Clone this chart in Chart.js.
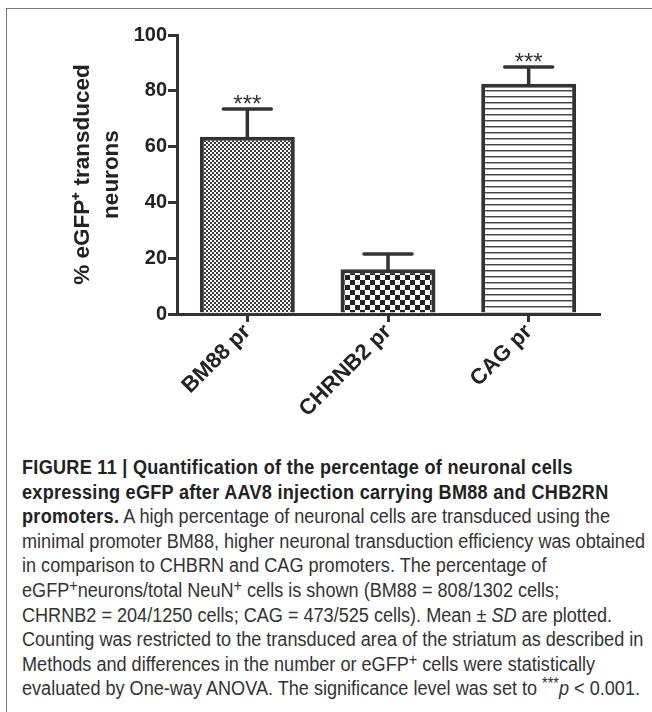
<!DOCTYPE html>
<html>
<head>
  <title>Figure 11</title>
  <script src="https://cdn.jsdelivr.net/npm/chart.js"></script>
  <style>
    body { margin: 0; background: #fff; width: 652px; height: 712px; overflow: hidden; position: relative; }
    .frame {
      position: absolute; left: 6px; top: 8px; width: 700px; height: 720px;
      border-left: 1.5px solid #777; border-top: 1.5px solid #777;
    }
    #wrap { position: absolute; left: 0; top: 0; width: 652px; height: 440px; }
    .caption {
      position: absolute; left: 22px; top: 455px;
      font-family: "Liberation Sans", Arial, sans-serif;
      font-size: 19.5px; line-height: 24.6px; color: #333; white-space: nowrap;
      transform-origin: 0 0;
    }
    .caption b { color: #222; letter-spacing: 0.3px; }
    .caption sup { font-size: 0.8em; vertical-align: 0.4em; line-height: 0; }
  </style>
</head>
<body>
<div class="frame"></div>
<div id="wrap"><canvas id="fig"></canvas></div>

<div class="caption" id="caption">
<b>FIGURE 11 | Quantification of the percentage of neuronal cells</b><br>
<b>expressing eGFP after AAV8 injection carrying BM88 and CHB2RN</b><br>
<b>promoters.</b> A high percentage of neuronal cells are transduced using the<br>
<span id="ref-line">minimal promoter BM88, higher neuronal transduction efficiency was obtained</span><br>
in comparison to CHBRN and CAG promoters. The percentage of<br>
eGFP<sup>+</sup>neurons/total NeuN<sup>+</sup> cells is shown (BM88 = 808/1302 cells;<br>
CHRNB2 = 204/1250 cells; CAG = 473/525 cells). Mean ± <i>SD</i> are plotted.<br>
Counting was restricted to the transduced area of the striatum as described in<br>
Methods and differences in the number or eGFP<sup>+</sup> cells were statistically<br>
evaluated by One-way ANOVA. The significance level was set to <sup>***</sup><i>p</i> &lt; 0.001.
</div>

<script>
  const categories = ['BM88 pr', 'CHRNB2 pr', 'CAG pr'];
  const meanValues = [63.5, 16, 82.5];
  const sdValues = [10, 5.5, 6];
  const significance = ['***', '', '***'];

  const INK = '#333';

  // the caption font is condensed in the original, squeeze it to fit
  const refWidth = document.getElementById('ref-line').getBoundingClientRect().width;
  document.getElementById('caption').style.transform = 'scaleX(' + (623 / refWidth) + ')';

  // small tiles used as bar fills
  function makePattern(kind) {
    const c = document.createElement('canvas');
    const g = c.getContext('2d');
    if (kind === 'fineChecker') {
      c.width = 4; c.height = 4;
      g.fillStyle = '#fff'; g.fillRect(0, 0, 4, 4);
      g.fillStyle = '#3a3a3a';
      g.fillRect(0, 0, 2, 2); g.fillRect(2, 2, 2, 2);
    } else if (kind === 'checker') {
      c.width = 10; c.height = 10;
      g.fillStyle = '#fff'; g.fillRect(0, 0, 10, 10);
      g.fillStyle = '#222';
      g.fillRect(0, 0, 5, 5); g.fillRect(5, 5, 5, 5);
    } else {
      c.width = 6; c.height = 6;
      g.fillStyle = '#fff'; g.fillRect(0, 0, 6, 6);
      g.fillStyle = '#444'; g.fillRect(0, 0, 6, 1);
      g.fillStyle = '#aaa'; g.fillRect(0, 1, 6, 1);
    }
    return g.createPattern(c, 'repeat');
  }

  const fills = [makePattern('fineChecker'), makePattern('checker'), makePattern('lines')];

  const errorBars = {
    id: 'errorBars',
    afterDatasetsDraw(chart) {
      const ctx = chart.ctx;
      const meta = chart.getDatasetMeta(0);
      const y = chart.scales.y;
      ctx.save();
      ctx.strokeStyle = INK;
      ctx.lineWidth = 3.5;
      ctx.lineCap = 'round';
      meta.data.forEach((bar, i) => {
        const yMean = y.getPixelForValue(meanValues[i]);
        const yTop = y.getPixelForValue(meanValues[i] + sdValues[i]);
        ctx.beginPath();
        ctx.moveTo(bar.x, yMean);
        ctx.lineTo(bar.x, yTop);
        ctx.moveTo(bar.x - 24, yTop);
        ctx.lineTo(bar.x + 24, yTop);
        ctx.stroke();
        if (significance[i]) {
          ctx.fillStyle = INK;
          ctx.font = '24px "Liberation Sans", Arial';
          ctx.textAlign = 'center';
          ctx.textBaseline = 'alphabetic';
          ctx.fillText(significance[i], bar.x, yTop + 3);
        }
      });
      ctx.restore();
    }
  };

  new Chart(document.getElementById('fig'), {
    type: 'bar',
    data: {
      labels: categories,
      datasets: [{
        data: meanValues,
        backgroundColor: fills,
        borderColor: INK,
        borderWidth: 4,
        categoryPercentage: 1,
        barPercentage: 0.675
      }]
    },
    options: {
      responsive: true,
      maintainAspectRatio: false,
      animation: false,
      layout: { padding: { top: 35, right: 53, left: 0, bottom: 0 } },
      plugins: { legend: { display: false }, tooltip: { enabled: false } },
      scales: {
        x: {
          grid: { display: true, drawOnChartArea: false, offset: false, tickLength: 8, lineWidth: 3, color: INK },
          border: { display: true, width: 3, color: INK },
          ticks: {
            minRotation: 45, maxRotation: 45, padding: -3,
            color: '#222', font: { family: 'Liberation Sans, Arial', size: 22, weight: 'bold' }
          },
          afterFit(scale) { scale.height = 126; }
        },
        y: {
          min: 0, max: 100,
          grid: { display: true, drawOnChartArea: false, tickLength: 9, lineWidth: 3, color: INK },
          border: { display: true, width: 3, color: INK },
          ticks: {
            stepSize: 20, padding: 1,
            color: '#222', font: { family: 'Liberation Sans, Arial', size: 20, weight: 'bold' }
          },
          title: {
            display: true,
            text: ['% eGFP⁺ transduced', 'neurons'],
            color: '#222',
            font: { family: 'Liberation Sans, Arial', size: 22.5, weight: 'bold', lineHeight: 1.3 },
            padding: { top: 68, bottom: 0 }
          },
          afterFit(scale) { scale.width = 177; }
        }
      }
    },
    plugins: [errorBars]
  });
</script>
</body>
</html>
